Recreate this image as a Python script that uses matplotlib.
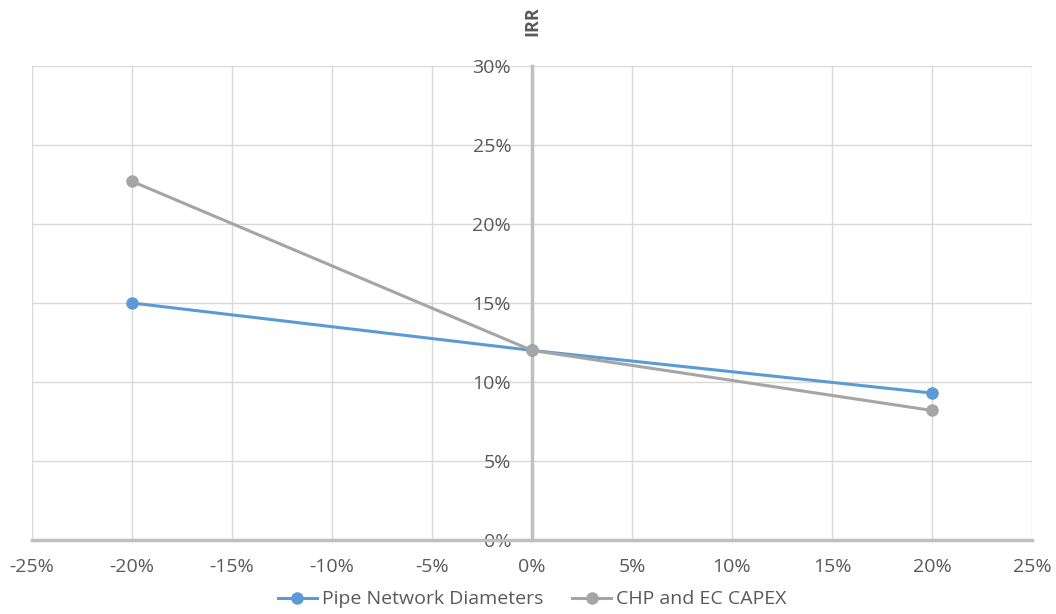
import matplotlib.pyplot as plt
from matplotlib.ticker import PercentFormatter

plt.rcParams['font.family'] = ['Open Sans', 'DejaVu Sans']
plt.rcParams['axes.unicode_minus'] = False

# sensitivity of IRR to a +/- change in each input
change = [-20, 0, 20]
pipe_irr = [15.0, 12.0, 9.3]
chp_irr = [22.7, 12.0, 8.2]

text_col = '#595959'
grid_col = '#d9d9d9'
axis_col = '#bfbfbf'

fig = plt.figure(figsize=(10.56, 6.14), dpi=100)
ax = fig.add_axes([32 / 1056, 74 / 614, 1000 / 1056, 474 / 614])

ax.plot(change, pipe_irr, color='#5b9bd5', lw=2.2, marker='o', ms=8,
        label='Pipe Network Diameters', zorder=3)
ax.plot(change, chp_irr, color='#a5a5a5', lw=2.2, marker='o', ms=8,
        label='CHP and EC CAPEX', zorder=3)

ax.set_xlim(-25, 25)
ax.set_ylim(0, 30)
ax.set_xticks(range(-25, 26, 5))
ax.set_yticks(range(0, 31, 5))
ax.xaxis.set_major_formatter(PercentFormatter(decimals=0))
ax.yaxis.set_major_formatter(PercentFormatter(decimals=0))
ax.grid(True, color=grid_col, lw=1)
ax.set_axisbelow(True)

# axes cross at zero
ax.spines['left'].set_position(('data', 0))
ax.spines['bottom'].set_position(('data', 0))
for side in ['left', 'bottom']:
    ax.spines[side].set_color(axis_col)
    ax.spines[side].set_linewidth(2.5)
    ax.spines[side].set_zorder(2)
for side in ['top', 'right']:
    ax.spines[side].set_visible(False)

ax.tick_params(length=0, labelsize=14, colors=text_col)
ax.tick_params(axis='x', pad=13)
ax.tick_params(axis='y', pad=15)

fig.text(532 / 1056, 1 - 21 / 614, 'IRR', rotation=90, ha='center', va='center',
         fontsize=13, fontweight='bold', color=text_col)

ax.legend(loc='upper center', bbox_to_anchor=(0.5, -0.09), ncol=2, frameon=False,
          fontsize=14, labelcolor=text_col, handlelength=2.0, handletextpad=0.25,
          columnspacing=1.5, borderaxespad=0)

fig.savefig('out.png', dpi=100)
